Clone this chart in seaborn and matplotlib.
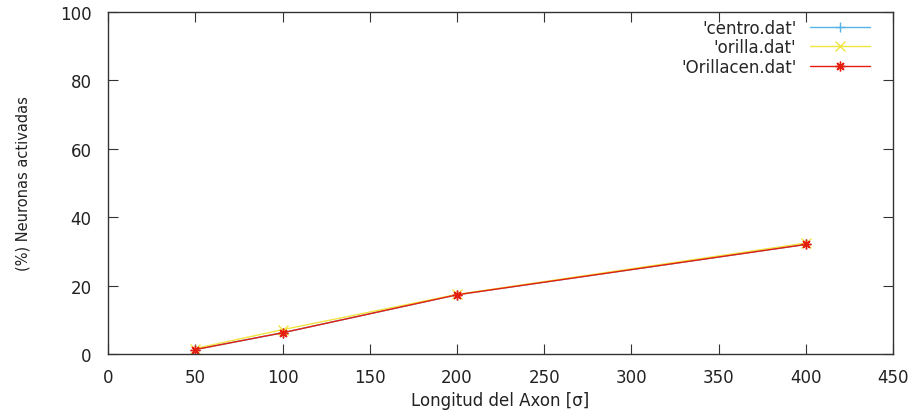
import matplotlib
matplotlib.use("Agg")
import matplotlib.pyplot as plt
import seaborn as sns
import pandas as pd

# valores
longitud = [50, 100, 200, 400]
centro = [1.3, 6.2, 17.3, 32.0]
orilla = [1.6, 7.1, 17.4, 32.4]
orillacen = [1.3, 6.2, 17.3, 32.0]

series = ["'centro.dat'", "'orilla.dat'", "'Orillacen.dat'"]
colores = ["#56b4e9", "#f0e442", "#e51e10"]
marcadores = ["+", "x", (8, 2, 0)]

sns.set_style("ticks")
plt.rcParams['font.family'] = ['DejaVu Sans']

fig = plt.figure(figsize=(9.16, 4.14), dpi=100)
ax = fig.add_axes([0.118, 0.1425, 0.857, 0.827])

for nombre, valores, c, m in zip(series, [centro, orilla, orillacen], colores, marcadores):
    df = pd.DataFrame({"x": longitud, "y": valores})
    sns.lineplot(data=df, x="x", y="y", ax=ax, color=c, marker=m, markersize=7,
                 markeredgewidth=1.0, markeredgecolor=c, linewidth=1.0, label=nombre)

ax.set_xlim(0, 450)
ax.set_ylim(0, 100)
ax.set_xticks(range(0, 451, 50))
ax.set_yticks(range(0, 101, 20))
ax.tick_params(axis="x", pad=10)
ax.tick_params(axis="y", pad=12)
ax.tick_params(direction="in", top=True, right=True, labelsize=12, length=7,
               colors="#333333", labelcolor="#222222")
for s in ax.spines.values():
    s.set_color("#333333")
    s.set_linewidth(1.0)

ax.set_xlabel("Longitud del Axon [σ]", fontsize=12, color="#222222", labelpad=4)
ax.set_ylabel("(%) Neuronas activadas", fontsize=10.5, color="#222222", labelpad=21)

ax.legend(loc="upper right", bbox_to_anchor=(0.985, 1.014), frameon=False,
          markerfirst=False, fontsize=12, handlelength=3.6, handletextpad=0.8,
          borderaxespad=0.3, labelspacing=0.1)

fig.savefig("out.png", dpi=100)
